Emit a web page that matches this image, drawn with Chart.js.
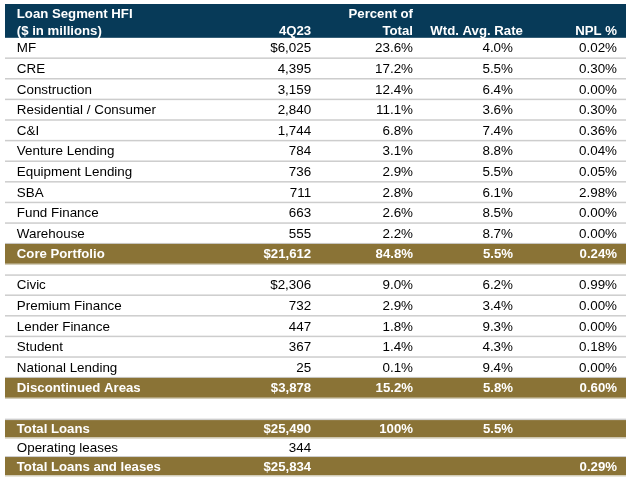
<!DOCTYPE html>
<html>
<head>
<meta charset="utf-8">
<script src="https://cdn.jsdelivr.net/npm/chart.js@4"></script>
<style>
html,body{margin:0;padding:0;background:#fff;}
#wrap{width:640px;height:484px;position:relative;}
</style>
</head>
<body>
<div id="wrap"><canvas id="c" width="640" height="484"></canvas></div>
<script>
// ---- data ----
const segments = ["MF","CRE","Construction","Residential / Consumer","C&I","Venture Lending","Equipment Lending","SBA","Fund Finance","Warehouse","Core Portfolio","Civic","Premium Finance","Lender Finance","Student","National Lending","Discontinued Areas","Total Loans","Operating leases","Total Loans and leases"];
const balances4Q23 = [6025,4395,3159,2840,1744,784,736,711,663,555,21612,2306,732,447,367,25,3878,25490,344,25834];
const percentOfTotal = [23.6,17.2,12.4,11.1,6.8,3.1,2.9,2.8,2.6,2.2,84.8,9.0,2.9,1.8,1.4,0.1,15.2,100,null,null];
const wtdAvgRate = [4.0,5.5,6.4,3.6,7.4,8.8,5.5,6.1,8.5,8.7,5.5,6.2,3.4,9.3,4.3,9.4,5.8,5.5,null,null];
const nplPct = [0.02,0.30,0.00,0.30,0.36,0.04,0.05,2.98,0.00,0.00,0.24,0.99,0.00,0.00,0.18,0.00,0.60,null,null,0.29];
const totalRows = ["Core Portfolio","Discontinued Areas","Total Loans","Total Loans and leases"];
const dollarRows = ["MF","Core Portfolio","Civic","Discontinued Areas","Total Loans","Total Loans and leases"];
const headerLine1 = ["Loan Segment HFI","","Percent of","",""];
const headerLine2 = ["($ in millions)","4Q23","Total","Wtd. Avg. Rate","NPL %"];

// ---- layout (not data) ----
const NAVY = "#073a58", GOLD = "#8a7336", SEP = "#cdcdcd", GOLD_EDGE = "#d3cdb8";
const HEADER_UNITS = 1.64;
const spacerAfter = {"Core Portfolio":0.5,"Discontinued Areas":1};
const rowWeight = name => (["Total Loans","Operating leases","Total Loans and leases"].includes(name) ? 0.92 : 1);
// x anchors in % of table width
const colLeft = 1.9;
const colRight = [null,49.3,65.7,81.8,98.55];
const headRight = [null,49.3,65.7,83.4,98.55];
const FONT_REG = "13.4px 'Liberation Sans', Arial, sans-serif";
const FONT_BOLD = "bold 13.2px 'Liberation Sans', Arial, sans-serif";

// build row geometry in y units
const rows = [];
let yPos = HEADER_UNITS;
segments.forEach((s,i)=>{
  const h = rowWeight(s);
  rows.push({i, name:s, top:yPos, bottom:yPos+h});
  yPos += h;
  if (spacerAfter[s]) yPos += spacerAfter[s];
});
const totalUnits = yPos;

function fmtMoney(v,name){
  const s = v.toLocaleString('en-US');
  return dollarRows.includes(name) ? "$"+s : s;
}
function fmtPct(v,d){ return v===100 ? "100%" : v.toFixed(d)+"%"; }

const tablePlugin = {
  id:'tablePlugin',
  beforeDatasetsDraw(chart){
    const ctx = chart.ctx, xs = chart.scales.x, ys = chart.scales.y;
    const X = v => xs.getPixelForValue(v), Y = v => ys.getPixelForValue(v);
    const x0 = X(0), x1 = X(100);
    ctx.save();
    // header
    ctx.fillStyle = NAVY;
    ctx.fillRect(x0, Y(0), x1-x0, Y(HEADER_UNITS)-Y(0));
    ctx.fillStyle = "#fff";
    ctx.font = FONT_BOLD;
    ctx.textBaseline = "middle";
    const l1 = Y(HEADER_UNITS*0.32), l2 = Y(HEADER_UNITS*0.81);
    headerLine1.forEach((t,c)=>{ if(!t) return;
      if(c===0){ctx.textAlign="left"; ctx.fillText(t, X(colLeft), l1);} else {ctx.textAlign="right"; ctx.fillText(t, X(headRight[c]), l1);} });
    headerLine2.forEach((t,c)=>{ if(!t) return;
      if(c===0){ctx.textAlign="left"; ctx.fillText(t, X(colLeft), l2);} else {ctx.textAlign="right"; ctx.fillText(t, X(headRight[c]), l2);} });
    // rows
    rows.forEach(r=>{
      const isTot = totalRows.includes(r.name);
      const yt = Y(r.top), yb = Y(r.bottom);
      if(isTot){
        ctx.fillStyle = GOLD;
        ctx.fillRect(x0, yt, x1-x0, yb-yt);
      }
      // separators
      ctx.fillStyle = isTot ? GOLD_EDGE : SEP;
      ctx.fillRect(x0, yb-1, x1-x0, 1.5);
      if (r.top > HEADER_UNITS && !rows.some(o=>Math.abs(o.bottom-r.top)<1e-6)) {
        ctx.fillStyle = SEP; ctx.fillRect(x0, yt-0.5, x1-x0, 1.5);
      }
      const ym = (yt+yb)/2 + 0.5;
      ctx.fillStyle = isTot ? "#fff" : "#000";
      ctx.font = isTot ? FONT_BOLD : FONT_REG;
      ctx.textAlign = "left";
      ctx.fillText(r.name, X(colLeft), ym);
      ctx.textAlign = "right";
      const vals = [
        balances4Q23[r.i]!=null ? fmtMoney(balances4Q23[r.i], r.name) : "",
        percentOfTotal[r.i]!=null ? fmtPct(percentOfTotal[r.i],1) : "",
        wtdAvgRate[r.i]!=null ? fmtPct(wtdAvgRate[r.i],1) : "",
        nplPct[r.i]!=null ? fmtPct(nplPct[r.i],2) : ""
      ];
      vals.forEach((t,k)=>{ if(t) ctx.fillText(t, X(colRight[k+1]), ym); });
    });
    ctx.restore();
  }
};

new Chart(document.getElementById('c'), {
  type:'scatter',
  data:{ datasets:[{ data:[], pointRadius:0 }] },
  options:{
    responsive:false, animation:false, devicePixelRatio:1,
    layout:{ padding:{left:5, right:14, top:4, bottom:8} },
    plugins:{ legend:{display:false}, tooltip:{enabled:false} },
    scales:{
      x:{ type:'linear', min:0, max:100, display:false },
      y:{ type:'linear', min:0, max:totalUnits, reverse:true, display:false }
    }
  },
  plugins:[tablePlugin]
});
</script>
</body>
</html>
